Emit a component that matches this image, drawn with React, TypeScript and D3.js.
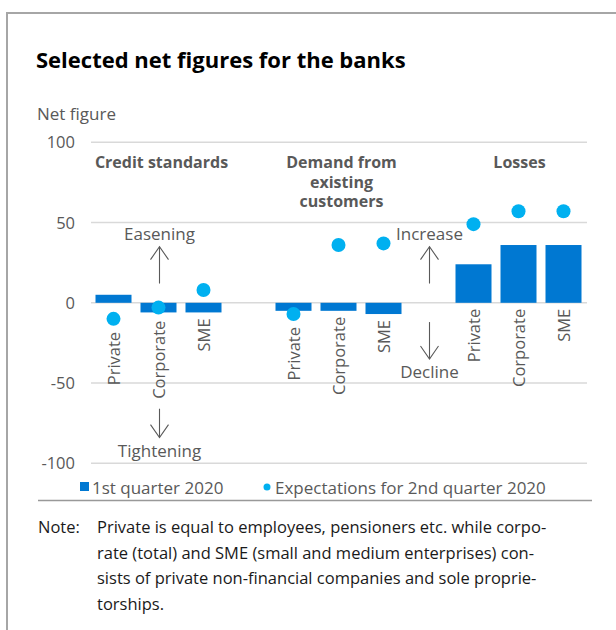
import React from "react";
import * as d3 from "d3";

const groups = ["Credit standards", "Demand from existing customers", "Losses"];
const groupHeaderLines = [["Credit standards"], ["Demand from", "existing", "customers"], ["Losses"]];
const segments = ["Private", "Corporate", "SME"];
const q1Values = [5, -6, -6, -5, -5, -7, 24, 36, 36];
const q2Expectations = [-10, -3, 8, -7, 36, 37, 49, 57, 57];
const yTicks = [100, 50, 0, -50, -100];
const seriesNames = ["1st quarter 2020", "Expectations for 2nd quarter 2020"];
const noteLines = [
  "Private is equal to employees, pensioners etc. while corpo-",
  "rate (total) and SME (small and medium enterprises) con-",
  "sists of private non-financial companies and sole proprie-",
  "torships.",
];
const arrowNotes = [
  { slot: 1, up: "Easening", down: "Tightening", upFrom: 12, upTo: 35, downFrom: -66, downTo: -84, upText: 39, downText: -96 },
  { slot: 7, up: "Increase", down: "Decline", upFrom: 12, upTo: 35, downFrom: -12, downTo: -35, upText: 39, downText: -47 },
];

const FONT = "'Open Sans', sans-serif";
const GRAY = "#595959";
const BAR = "#0078d2";
const DOT = "#00b0f0";

export default function App() {
  const W = 616, H = 630;
  const y = d3.scaleLinear().domain([-100, 100]).range([463.3, 142.3]);
  const slots = d3.range(11);
  const x = d3.scaleBand<number>().domain(slots).range([91, 586]).paddingInner(0.2).paddingOuter(0.1);
  const bw = x.bandwidth();
  const slotOf = (g: number, i: number) => g * 4 + i;
  const cx = (s: number) => (x(s) as number) + bw / 2;
  const r = 7;

  const items = q1Values.map((v, k) => {
    const g = Math.floor(k / 3), i = k % 3;
    return { g, i, v, e: q2Expectations[k], s: slotOf(g, i) };
  });
  const headerX = (g: number) => cx(slotOf(g, 1)) + (g === 2 ? 1 : 3);

  return (
    <svg width={W} height={H} style={{ display: "block", position: "absolute", left: 0, top: 0 }} fontFamily={FONT}>
      <rect x={0} y={0} width={W} height={H} fill="#fff" />
      <line x1={7} x2={W} y1={13} y2={13} stroke="#a6a6a6" strokeWidth={2} />
      <line x1={7} x2={7} y1={12} y2={H} stroke="#a6a6a6" strokeWidth={2} />
      <text x={36} y={68} fontSize={22} fontWeight={700} fill="#000">Selected net figures for the banks</text>
      <text x={37} y={120} fontSize={17} fill={GRAY}>Net figure</text>
      {yTicks.map((t) => (
        <g key={t}>
          <line x1={91} x2={587} y1={y(t)} y2={y(t)} stroke="#d9d9d9" strokeWidth={1.5} />
          <text x={75} y={y(t) + 6} fontSize={16.5} fill={GRAY} textAnchor="end">{t}</text>
        </g>
      ))}
      {groupHeaderLines.map((lines, g) =>
        lines.map((l, j) => (
          <text key={`${g}-${j}`} x={headerX(g)} y={168 + j * 19.7} fontSize={16} fontWeight={700} fill={GRAY} textAnchor="middle">{l}</text>
        ))
      )}
      {items.map((d, k) => (
        <rect key={k} x={x(d.s)} width={bw} y={y(Math.max(0, d.v))} height={Math.abs(y(d.v) - y(0))} fill={BAR} />
      ))}
      {items.map((d, k) => (
        <circle key={k} cx={cx(d.s)} cy={y(d.e)} r={r} fill={DOT} />
      ))}
      {items.map((d, k) => {
        let top = y(Math.min(0, d.v));
        if (d.e < 0) top = Math.max(top, y(d.e) + r);
        top += 6;
        const px = cx(d.s) + 6;
        return (
          <text key={k} transform={`translate(${px},${top}) rotate(-90)`} fontSize={16.5} fill={GRAY} textAnchor="end">{segments[d.i]}</text>
        );
      })}
      {arrowNotes.map((a, k) => {
        const ax = cx(a.slot) + 1;
        const hw = 9, hh = 13;
        const u1 = y(a.upFrom), u2 = y(a.upTo), d1 = y(a.downFrom), d2 = y(a.downTo);
        return (
          <g key={k} stroke={GRAY} strokeWidth={1.1} fill="none">
            <line x1={ax} x2={ax} y1={u1} y2={u2} />
            <polyline points={`${ax - hw},${u2 + hh} ${ax},${u2} ${ax + hw},${u2 + hh}`} />
            <line x1={ax} x2={ax} y1={d1} y2={d2} />
            <polyline points={`${ax - hw},${d2 - hh} ${ax},${d2} ${ax + hw},${d2 - hh}`} />
            <text x={ax} y={y(a.upText)} fontSize={17} fill={GRAY} stroke="none" textAnchor="middle">{a.up}</text>
            <text x={ax} y={y(a.downText)} fontSize={17} fill={GRAY} stroke="none" textAnchor="middle">{a.down}</text>
          </g>
        );
      })}
      <rect x={80} y={482} width={9} height={9} fill={BAR} />
      <text x={92} y={494} fontSize={17} fill={GRAY}>{seriesNames[0]}</text>
      <circle cx={267} cy={487} r={3.5} fill={DOT} />
      <text x={275} y={494} fontSize={17} fill={GRAY}>{seriesNames[1]}</text>
      <line x1={38} x2={592} y1={500.5} y2={500.5} stroke="#999" strokeWidth={1.5} />
      <text x={38} y={533} fontSize={16.5} fill="#1a1a1a">Note:</text>
      {noteLines.map((l, j) => (
        <text key={j} x={97} y={533 + j * 25.7} fontSize={16.5} fill="#1a1a1a">{l}</text>
      ))}
    </svg>
  );
}
